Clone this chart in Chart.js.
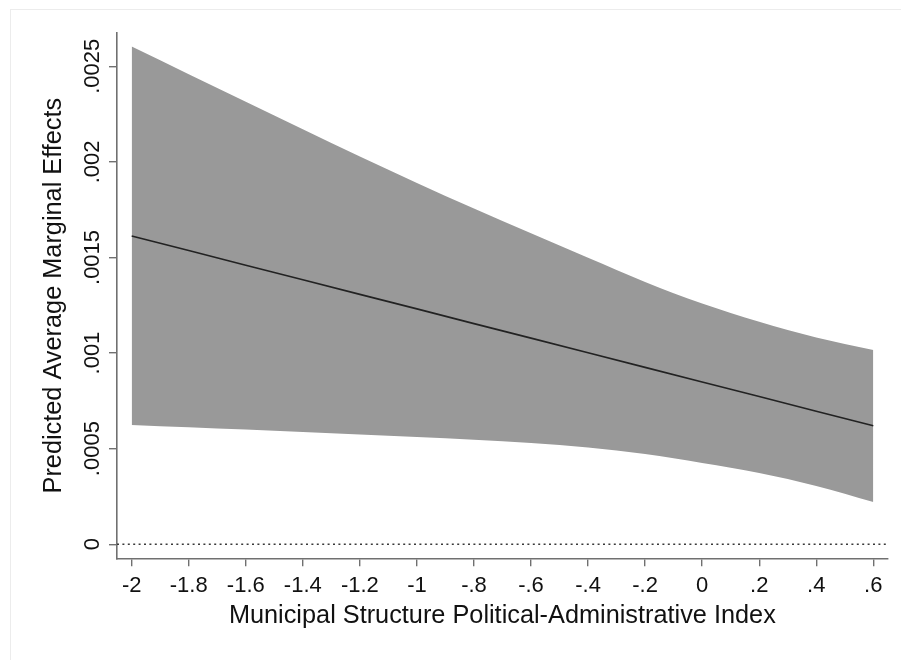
<!DOCTYPE html>
<html>
<head>
<meta charset="utf-8">
<script src="https://cdn.jsdelivr.net/npm/chart.js@4/dist/chart.umd.min.js"></script>
<style>
  html, body { margin: 0; padding: 0; background: #ffffff; }
  #wrap { width: 901px; height: 660px; position: relative; }
</style>
</head>
<body>
<div id="wrap"><canvas id="c" width="901" height="660"></canvas></div>
<script>
// Index values where the margins were evaluated
const indexValues = [-2, -1.8, -1.6, -1.4, -1.2, -1, -0.8, -0.6, -0.4, -0.2, 0, 0.2, 0.4, 0.6];
// Predicted average marginal effect (point estimate)
const marginalEffect = [0.001612, 0.001536, 0.001459, 0.001383, 0.001307, 0.001231, 0.001154,
                        0.001078, 0.001002, 0.000925, 0.000849, 0.000773, 0.000696, 0.000620];
// Upper and lower confidence limits
const upperLimit = [0.002603, 0.002458, 0.002314, 0.002170, 0.002028, 0.001890, 0.001756,
                    0.001626, 0.001498, 0.001372, 0.001259, 0.001164, 0.001082, 0.001016];
const lowerLimit = [0.000624, 0.000612, 0.000600, 0.000587, 0.000574, 0.000561, 0.000547,
                    0.000530, 0.000506, 0.000472, 0.000425, 0.000373, 0.000305, 0.000221];

// Axis ticks and their labels
const xTicks = [-2, -1.8, -1.6, -1.4, -1.2, -1, -0.8, -0.6, -0.4, -0.2, 0, 0.2, 0.4, 0.6];
const xTickLabels = ['-2', '-1.8', '-1.6', '-1.4', '-1.2', '-1', '-.8', '-.6', '-.4', '-.2', '0', '.2', '.4', '.6'];
const yTicks = [0, 0.0005, 0.001, 0.0015, 0.002, 0.0025];
const yTickLabels = ['0', '.0005', '.001', '.0015', '.002', '.0025'];

// Axis ranges
const xMin = -2.0515, xMax = 0.6505;
const yMin = -0.0000735, yMax = 0.002674;

const xTitle = 'Municipal Structure Political-Administrative Index';
const yTitle = 'Predicted Average Marginal Effects';

const FONT = "'Liberation Sans', Arial, sans-serif";
const AXIS_COLOR = '#707070';
const TEXT_COLOR = '#111111';

const pts = arr => indexValues.map((x, i) => ({ x, y: arr[i] }));

// White page with a faint frame
const pageBackground = {
  id: 'pageBackground',
  beforeDraw(chart) {
    const ctx = chart.ctx;
    ctx.save();
    ctx.fillStyle = '#ffffff';
    ctx.fillRect(0, 0, chart.width, chart.height);
    ctx.strokeStyle = '#ececec';
    ctx.lineWidth = 1;
    ctx.strokeRect(10.5, 9.5, chart.width, chart.height);
    ctx.restore();
  }
};

// Vertical tick labels on the y axis, reading bottom to top
const verticalYLabels = {
  id: 'verticalYLabels',
  afterDraw(chart) {
    const ctx = chart.ctx;
    const y = chart.scales.y;
    ctx.save();
    ctx.font = '22px ' + FONT;
    ctx.fillStyle = TEXT_COLOR;
    ctx.textAlign = 'center';
    ctx.textBaseline = 'alphabetic';
    yTicks.forEach((v, i) => {
      const py = y.getPixelForValue(v);
      ctx.save();
      ctx.translate(y.right - 18, py);
      ctx.rotate(-Math.PI / 2);
      ctx.fillText(yTickLabels[i], 0, 0);
      ctx.restore();
    });
    ctx.restore();
  }
};

new Chart(document.getElementById('c'), {
  type: 'line',
  data: {
    datasets: [
      {
        label: 'Marginal effect',
        data: pts(marginalEffect),
        borderColor: '#222222',
        borderWidth: 1.6,
        pointRadius: 0,
        fill: false,
        order: 0
      },
      {
        label: 'Upper limit',
        data: pts(upperLimit),
        borderWidth: 0,
        borderColor: 'rgba(0,0,0,0)',
        backgroundColor: '#999999',
        pointRadius: 0,
        cubicInterpolationMode: 'monotone',
        fill: '+1',
        order: 2
      },
      {
        label: 'Lower limit',
        data: pts(lowerLimit),
        borderWidth: 0,
        borderColor: 'rgba(0,0,0,0)',
        pointRadius: 0,
        cubicInterpolationMode: 'monotone',
        fill: false,
        order: 3
      },
      {
        label: 'Zero',
        data: [{ x: xMin, y: 0 }, { x: xMax, y: 0 }],
        borderColor: '#3a3a3a',
        borderWidth: 1.4,
        borderDash: [2, 3.4],
        pointRadius: 0,
        fill: false,
        order: 1
      }
    ]
  },
  options: {
    responsive: false,
    animation: false,
    events: [],
    layout: { padding: { top: 33, right: 13.3, left: 0, bottom: 0 } },
    plugins: {
      legend: { display: false },
      tooltip: { enabled: false }
    },
    scales: {
      x: {
        type: 'linear',
        min: xMin,
        max: xMax,
        afterFit: s => { s.height = 101.7; },
        afterBuildTicks: s => { s.ticks = xTicks.map(v => ({ value: v })); },
        border: { display: true, color: AXIS_COLOR, width: 1.6 },
        grid: { drawOnChartArea: false, drawTicks: true, tickLength: 8, color: AXIS_COLOR, lineWidth: 1.4 },
        ticks: {
          autoSkip: false,
          maxRotation: 0,
          padding: 6,
          color: TEXT_COLOR,
          font: { family: FONT, size: 22 },
          callback: (v, i) => xTickLabels[i]
        },
        title: {
          display: true,
          text: xTitle,
          color: TEXT_COLOR,
          font: { family: FONT, size: 25.3 },
          padding: { top: 0, bottom: 28.7 }
        }
      },
      y: {
        type: 'linear',
        min: yMin,
        max: yMax,
        afterFit: s => { s.width = 117; },
        afterBuildTicks: s => { s.ticks = yTicks.map(v => ({ value: v })); },
        border: { display: true, color: AXIS_COLOR, width: 1.6 },
        grid: { drawOnChartArea: false, drawTicks: true, tickLength: 8, color: AXIS_COLOR, lineWidth: 1.4 },
        ticks: { display: false },
        title: {
          display: true,
          text: yTitle,
          color: TEXT_COLOR,
          font: { family: FONT, size: 25.3 },
          padding: { top: 39, bottom: 0 }
        }
      }
    }
  },
  plugins: [pageBackground, verticalYLabels]
});
</script>
</body>
</html>
